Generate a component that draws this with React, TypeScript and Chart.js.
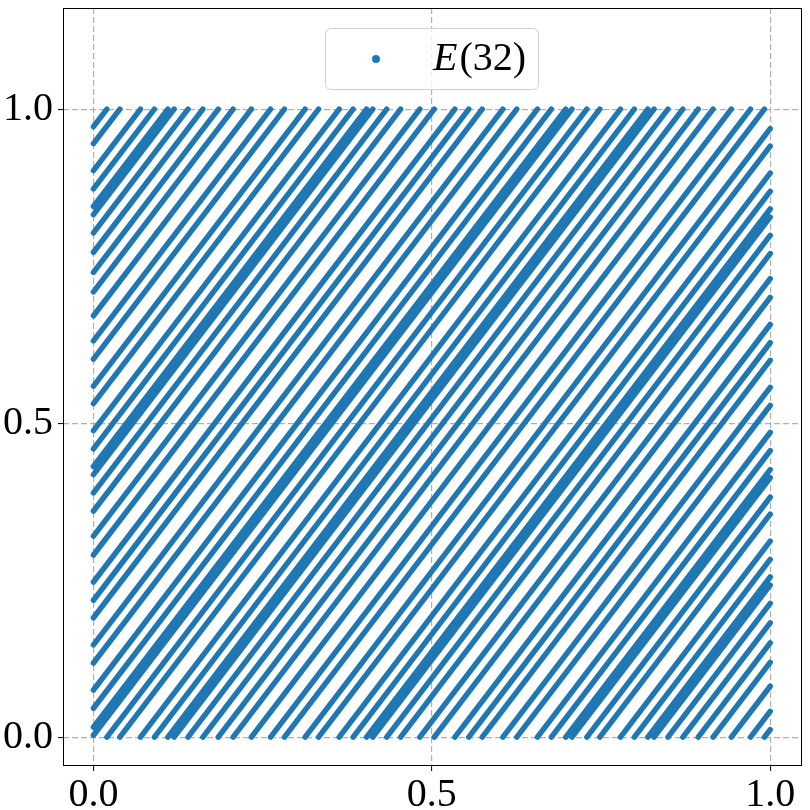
import React, { useEffect, useRef } from "react";
import { Chart, registerables } from "chart.js";

Chart.register(...registerables);

const SERIES_LABEL_ITALIC = "E";
const SERIES_LABEL_REST = "(32)";
const X_TICKS = [0, 0.5, 1];
const Y_TICKS = [0, 0.5, 1];
// slope of every stripe (data units)
const LINE_SLOPE = 1.41;
// height (y) at which each stripe leaves the left edge x = 0
const LINE_OFFSETS = [
  0.003, 0.016, 0.046, 0.075, 0.118, 0.147, 0.19, 0.218, 0.247, 0.29, 0.32,
  0.36, 0.389, 0.418, 0.431, 0.459, 0.488, 0.531, 0.559, 0.602, 0.631, 0.671,
  0.709, 0.74, 0.772, 0.803, 0.832, 0.845, 0.873, 0.902, 0.945, 0.972,
];

const BLUE = "#1f77b4";
const FONT = '"Liberation Serif", "Times New Roman", serif';

type P = { x: number; y: number | null };

function buildStripes(offsets: number[], slope: number): P[] {
  const pts: P[] = [];
  for (const c of offsets) {
    let x0 = 0;
    let y0 = c;
    let k = 0;
    while (x0 < 1) {
      const xTop = (1 + k - c) / slope;
      const x1 = Math.min(1, xTop);
      const y1 = x1 === xTop ? 1 : c + slope * x1 - k;
      pts.push({ x: x0, y: y0 }, { x: x1, y: y1 }, { x: x1, y: null });
      x0 = xTop;
      y0 = 0;
      k++;
    }
  }
  return pts;
}

const framePlugin = {
  id: "frameAndLegend",
  afterDraw(chart: any) {
    const { ctx, chartArea } = chart;
    const { left, top, right, bottom } = chartArea;
    ctx.save();
    ctx.strokeStyle = "#000";
    ctx.lineWidth = 1;
    ctx.setLineDash([]);
    ctx.strokeRect(
      Math.round(left) + 0.5,
      Math.round(top) + 0.5,
      Math.round(right - left) - 1,
      Math.round(bottom - top) - 1
    );

    // legend box
    const bx = 325.5,
      by = 28.5,
      bw = 213,
      bh = 61,
      r = 6;
    ctx.beginPath();
    ctx.moveTo(bx + r, by);
    ctx.lineTo(bx + bw - r, by);
    ctx.quadraticCurveTo(bx + bw, by, bx + bw, by + r);
    ctx.lineTo(bx + bw, by + bh - r);
    ctx.quadraticCurveTo(bx + bw, by + bh, bx + bw - r, by + bh);
    ctx.lineTo(bx + r, by + bh);
    ctx.quadraticCurveTo(bx, by + bh, bx, by + bh - r);
    ctx.lineTo(bx, by + r);
    ctx.quadraticCurveTo(bx, by, bx + r, by);
    ctx.closePath();
    ctx.fillStyle = "rgba(255,255,255,0.8)";
    ctx.fill();
    ctx.strokeStyle = "#d0d0d0";
    ctx.stroke();

    ctx.beginPath();
    ctx.arc(376, 59, 4, 0, Math.PI * 2);
    ctx.fillStyle = BLUE;
    ctx.fill();

    ctx.fillStyle = "#000";
    ctx.textBaseline = "alphabetic";
    ctx.textAlign = "left";
    ctx.font = `italic 40px ${FONT}`;
    ctx.fillText(SERIES_LABEL_ITALIC, 433, 70);
    const w = ctx.measureText(SERIES_LABEL_ITALIC).width;
    ctx.font = `40px ${FONT}`;
    ctx.fillText(SERIES_LABEL_REST, 433 + w + 2, 70);
    ctx.restore();
  },
};

export default function App() {
  const ref = useRef<HTMLCanvasElement | null>(null);

  useEffect(() => {
    if (!ref.current) return;
    const data = buildStripes(LINE_OFFSETS, LINE_SLOPE);
    const tickFont = { family: FONT, size: 40 };
    const chart = new Chart(ref.current, {
      type: "scatter",
      data: {
        datasets: [
          {
            label: SERIES_LABEL_ITALIC + SERIES_LABEL_REST,
            data: data as any,
            showLine: true,
            spanGaps: false,
            borderColor: BLUE,
            backgroundColor: BLUE,
            borderWidth: 5.5,
            borderCapStyle: "round",
            borderJoinStyle: "round",
            pointRadius: 0,
            pointHoverRadius: 0,
          } as any,
        ],
      },
      options: {
        animation: false,
        responsive: false,
        devicePixelRatio: 1,
        layout: { padding: { top: 8, right: 8, left: 0, bottom: 0 } },
        plugins: {
          legend: { display: false },
          tooltip: { enabled: false },
        },
        scales: {
          x: {
            type: "linear",
            min: -0.045,
            max: 1.047,
            afterBuildTicks: (s: any) => {
              s.ticks = X_TICKS.map((v) => ({ value: v }));
            },
            afterFit: (s: any) => {
              s.height = 44;
              s.paddingLeft = 0;
              s.paddingRight = 0;
            },
            ticks: {
              font: tickFont,
              color: "#000",
              padding: 0,
              maxRotation: 0,
              autoSkip: false,
              callback: (v: any) => Number(v).toFixed(1),
            },
            grid: {
              color: "#b0b0b0",
              lineWidth: 1.2,
              tickLength: 5,
              tickColor: "#000",
              tickWidth: 1,
              tickBorderDash: [],
            },
            border: { display: false, dash: [6, 3] },
          },
          y: {
            type: "linear",
            min: -0.046,
            max: 1.161,
            afterBuildTicks: (s: any) => {
              s.ticks = Y_TICKS.map((v) => ({ value: v }));
            },
            afterFit: (s: any) => {
              s.width = 63;
              s.paddingTop = 0;
              s.paddingBottom = 0;
            },
            ticks: {
              font: tickFont,
              color: "#000",
              padding: 5,
              autoSkip: false,
              callback: (v: any) => Number(v).toFixed(1),
            },
            grid: {
              color: "#b0b0b0",
              lineWidth: 1.2,
              tickLength: 5,
              tickColor: "#000",
              tickWidth: 1,
              tickBorderDash: [],
            },
            border: { display: false, dash: [6, 3] },
          },
        },
      },
      plugins: [framePlugin],
    });
    return () => chart.destroy();
  }, []);

  return (
    <div
      style={{
        position: "fixed",
        left: 0,
        top: 0,
        width: 810,
        height: 810,
        background: "#fff",
      }}
    >
      <canvas ref={ref} width={810} height={810} />
    </div>
  );
}
